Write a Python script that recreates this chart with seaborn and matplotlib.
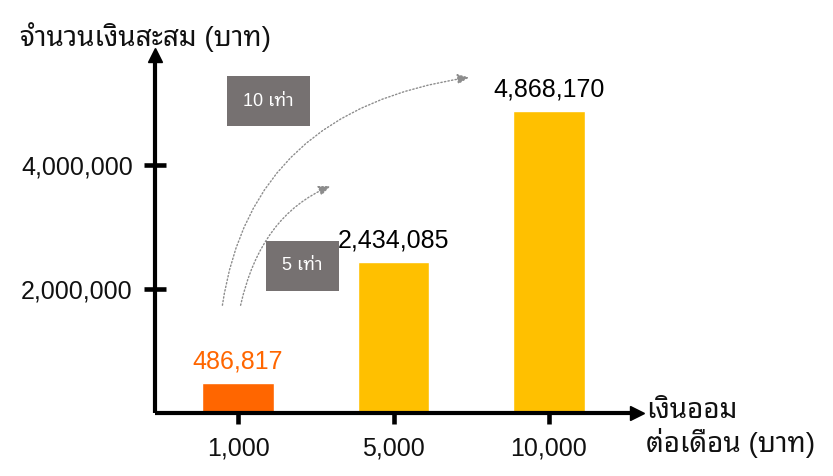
import matplotlib
matplotlib.use("Agg")
import matplotlib.pyplot as plt
from matplotlib.patches import FancyArrowPatch
import seaborn as sns
import pandas as pd

# monthly saving amounts and the accumulated totals they grow into
monthly = ["1,000", "5,000", "10,000"]
totals = [486817, 2434085, 4868170]
bar_colors = ["#FF6600", "#FFC000", "#FFC000"]
label_colors = ["#FF6600", "#000000", "#000000"]
ytick_values = [2000000, 4000000]
ytick_labels = ["2,000,000", "4,000,000"]
multiples = ["10 เท่า", "5 เท่า"]

sns.set_theme(style="white")
FAM = ["Liberation Sans", "Noto Sans Thai Looped", "DejaVu Sans"]
plt.rcParams["font.family"] = FAM

W, H = 833, 476
fig = plt.figure(figsize=(W / 100, H / 100), dpi=100)


def fx(px):
    return px / W


def fy(py):
    return 1 - py / H


# axes frame: left edge on the y-axis line, bottom on the x-axis line
ax = fig.add_axes([fx(155), fy(413), fx(637) - fx(155), fy(55) - fy(413)])

df = pd.DataFrame({"monthly": monthly, "total": totals})
sns.barplot(data=df, x="monthly", y="total", hue="monthly",
            palette=bar_colors, legend=False, width=0.46,
            saturation=1, ax=ax)

ax.set_xlim(-0.534, 2.566)
ax.set_ylim(0, 5.78e6)

for sp in ["top", "right"]:
    ax.spines[sp].set_visible(False)
for sp in ["left", "bottom"]:
    ax.spines[sp].set_linewidth(3)
    ax.spines[sp].set_color("black")
    ax.spines[sp].set_capstyle("butt")

# arrowheads at the ends of both axes
ax.plot([0], [1], marker="^", ms=10, color="black", transform=ax.transAxes, clip_on=False)
ax.plot([1], [0], marker=">", ms=10, color="black", transform=ax.transAxes, clip_on=False)

ax.set_yticks(ytick_values)
ax.set_yticklabels(ytick_labels)
ax.tick_params(axis="both", direction="inout", length=16, width=3.3, color="black",
               labelsize=18, labelcolor="#111111", bottom=True, left=True)
ax.tick_params(axis="y", pad=8)
ax.tick_params(axis="x", pad=9)
ax.set_xlabel("")
ax.set_ylabel("")

# value labels above each bar
for i, (v, c) in enumerate(zip(totals, label_colors)):
    ax.annotate(f"{v:,}", xy=(i, v), xytext=(0, 7), textcoords="offset points",
                ha="center", va="bottom", fontsize=18, color=c)

# axis titles
fig.text(fx(20), fy(46), "จำนวนเงินสะสม (บาท)", fontsize=20, ha="left", va="baseline",
         color="#111111")
fig.text(fx(646), fy(428), "เงินออม\nต่อเดือน (บาท)", fontsize=20, ha="left", va="center",
         linespacing=1.15, color="#111111")

# growth boxes
box_gray = "#767171"
fig.text(fx(268.5), fy(101), multiples[0], fontsize=13, color="white", ha="center",
         va="center", bbox=dict(boxstyle="square,pad=0.9", fc=box_gray, ec="none"))
fig.text(fx(302.5), fy(266), multiples[1], fontsize=13, color="white", ha="center",
         va="center", bbox=dict(boxstyle="square,pad=0.9", fc=box_gray, ec="none"))

# dotted growth arrows
for start, end, angs in [((222, 308), (472, 77), (82, 8)),
                         ((240, 308), (333, 185), (78, 22))]:
    arr = FancyArrowPatch((fx(start[0]), fy(start[1])), (fx(end[0]), fy(end[1])),
                          transform=fig.transFigure,
                          connectionstyle=f"angle3,angleA={angs[0]},angleB={angs[1]}",
                          arrowstyle="-|>,head_length=7,head_width=3",
                          color="#8C8C8C", lw=1.0, linestyle=(0, (1, 1.6)),
                          mutation_scale=1)
    fig.add_artist(arr)

fig.savefig("out.png", dpi=100)
